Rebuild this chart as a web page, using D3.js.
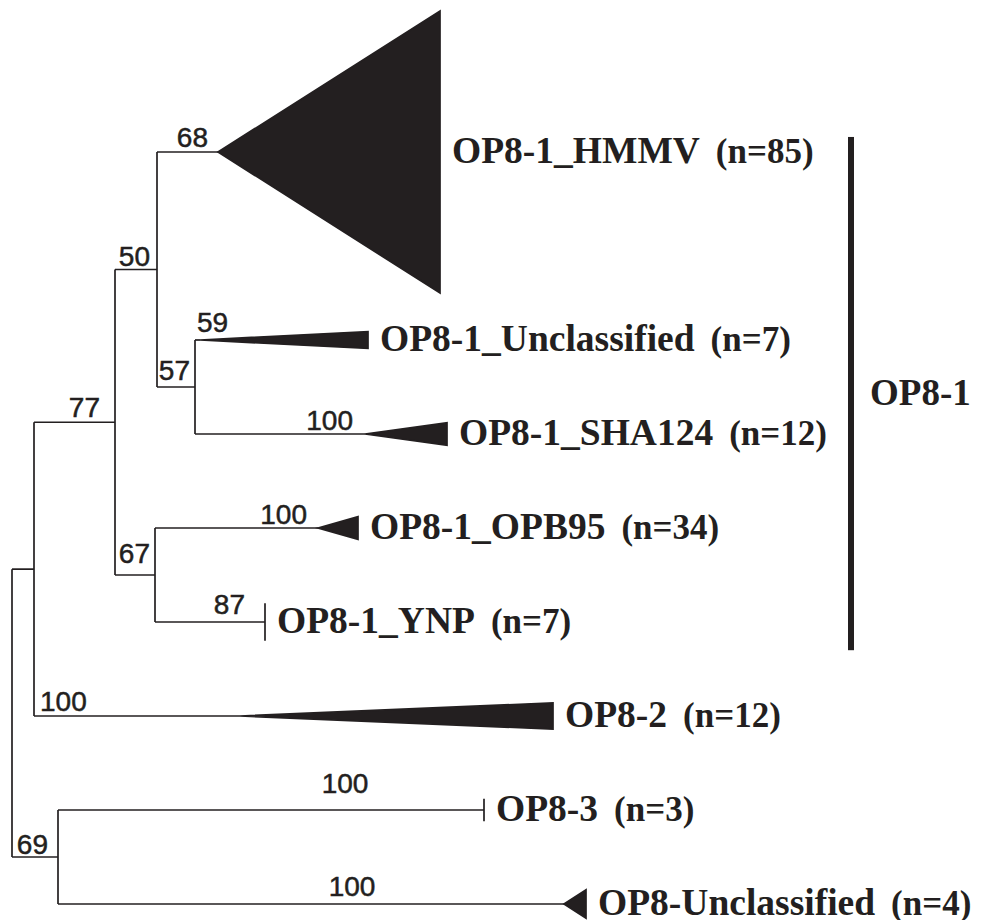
<!DOCTYPE html>
<html>
<head>
<meta charset="utf-8">
<script src="https://cdn.jsdelivr.net/npm/d3@7/dist/d3.min.js"></script>
<style>
  body { margin: 0; background: #fff; }
</style>
</head>
<body>
<script>
// tree topology (branch lengths in substitutions/site)
const nodeIds   = ['root', 'A', 'B77', 'B50', 'B57', 'B67', 'B69', 'HMMV', 'U1', 'SHA124', 'OPB95', 'YNP', 'OP82', 'OP83', 'OPU'];
const parentIds = ['', 'root', 'A', 'B77', 'B50', 'B77', 'root', 'B50', 'B57', 'B57', 'B67', 'B67', 'A', 'B69', 'B69'];
const branchLen = [0, 0.022, 0.081, 0.042, 0.038, 0.040, 0.046, 0.061, 0.005, 0.170, 0.163, 0.110, 0.206, 0.426, 0.506];
const support   = [null, null, 77, 50, 57, 67, 69, 68, 59, 100, 100, 87, 100, 100, 100];

// collapsed clades
const cladeIds    = ['HMMV', 'U1', 'SHA124', 'OPB95', 'YNP', 'OP82', 'OP83', 'OPU'];
const cladeNames  = ['OP8-1_HMMV', 'OP8-1_Unclassified', 'OP8-1_SHA124', 'OP8-1_OPB95', 'OP8-1_YNP', 'OP8-2', 'OP8-3', 'OP8-Unclassified'];
const cladeN      = [85, 7, 12, 34, 7, 12, 3, 4];
const cladeDepth  = [0.222, 0.168, 0.082, 0.040, 0, 0.313, 0, 0.022];
const cladeSpread = [1.5, 0.09, 0.12, 0.12, 0.2, 0.14, 0.12, 0.15];
const leafRow     = [0, 2, 3, 4, 5, 6, 7, 8];

// group bracket
const groupName = 'OP8-1';
const groupRows = [-0.16, 5.3];

const width = 982;
const height = 920;
const ink = '#231f20';

const svg = d3.select('body')
  .append('svg')
  .attr('width', width)
  .attr('height', height)
  .attr('viewBox', [0, 0, width, height]);

const x = d3.scaleLinear().domain([0, 1]).range([12, 1012]);
const y = d3.scaleLinear().domain([0, 8]).range([152, 904]);

const table = nodeIds.map((id, i) => ({
  id, parent: parentIds[i] || null, len: branchLen[i], support: support[i]
}));
const root = d3.stratify().id(d => d.id).parentId(d => d.parent)(table);

// depth along x and row along y
root.eachBefore(n => { n.dist = n.parent ? n.parent.dist + n.data.len : 0; });
root.eachAfter(n => {
  if (n.children) n.row = d3.mean(n.children, c => c.row);
  else n.row = leafRow[cladeIds.indexOf(n.id)];
});

const g = svg.append('g')
  .attr('stroke', ink)
  .attr('stroke-width', 1.7)
  .attr('fill', 'none');

// horizontal branches
g.selectAll('line.h')
  .data(root.descendants().filter(n => n.parent))
  .join('line')
  .attr('class', 'h')
  .attr('x1', n => x(n.parent.dist))
  .attr('x2', n => x(n.dist))
  .attr('y1', n => y(n.row))
  .attr('y2', n => y(n.row));

// vertical connectors
g.selectAll('line.v')
  .data(root.descendants().filter(n => n.children))
  .join('line')
  .attr('class', 'v')
  .attr('x1', n => x(n.dist))
  .attr('x2', n => x(n.dist))
  .attr('y1', n => y(d3.min(n.children, c => c.row)))
  .attr('y2', n => y(d3.max(n.children, c => c.row)));

// collapsed clade triangles
const leaves = root.leaves().map(n => {
  const i = cladeIds.indexOf(n.id);
  return { node: n, name: cladeNames[i], n: cladeN[i], depth: cladeDepth[i], spread: cladeSpread[i] };
});

svg.append('g')
  .selectAll('polygon')
  .data(leaves)
  .join('polygon')
  .attr('points', d => {
    const x0 = x(d.node.dist), x1 = x(d.node.dist + d.depth);
    return [[x0, y(d.node.row)], [x1, y(d.node.row - d.spread)], [x1, y(d.node.row + d.spread)]].join(' ');
  })
  .attr('fill', ink)
  .attr('stroke', ink)
  .attr('stroke-width', 1.7)
  .attr('stroke-linejoin', 'miter');

// clade labels
const lab = svg.append('g')
  .attr('font-family', '"Liberation Serif", "Times New Roman", serif')
  .attr('font-weight', 'bold')
  .attr('fill', ink)
  .selectAll('text')
  .data(leaves)
  .join('text')
  .attr('x', d => x(d.node.dist + d.depth) + 12)
  .attr('y', d => y(d.node.row) + 11);
lab.append('tspan').attr('font-size', 37.5).text(d => d.name);
lab.append('tspan').attr('font-size', 35).attr('dx', 16).text(d => `(n=${d.n})`);

// bootstrap values: default right-aligned near branch end
const supportPos = {
  B77: { dx: -15 },
  B50: { dx: -7, dy: -4 },
  B57: { dx: -5, dy: -7 },
  B67: { dx: -5, dy: -12 },
  SHA124: { dx: -12, dy: -4 },
  OPB95: { dx: -11, dy: -4 },
  YNP: { dx: -20, dy: -8 },
  B69: { dx: -10, dy: -3 },
  U1: { from: 'start', dx: 2, dy: -8 },
  OP82: { from: 'start', dx: 6 },
  OP83: { anchor: 'middle', dx: -139, dy: -17 },
  OPU: { anchor: 'middle', dx: -212, dy: -8 }
};

svg.append('g')
  .attr('font-family', '"Liberation Sans", Arial, sans-serif')
  .attr('font-size', 28)
  .attr('fill', ink)
  .attr('stroke', ink)
  .attr('stroke-width', 0.5)
  .selectAll('text')
  .data(root.descendants().filter(n => n.data.support != null))
  .join('text')
  .each(function (n) {
    const p = Object.assign({ dx: -10, dy: -5 }, supportPos[n.id] || {});
    const start = p.from === 'start';
    d3.select(this)
      .attr('x', (start ? x(n.parent.dist) : x(n.dist)) + p.dx)
      .attr('y', y(n.row) + p.dy)
      .attr('text-anchor', p.anchor || (start ? 'start' : 'end'))
      .text(n.data.support);
  });

// OP8-1 bracket
svg.append('rect')
  .attr('x', 848)
  .attr('y', y(groupRows[0]))
  .attr('width', 6)
  .attr('height', y(groupRows[1]) - y(groupRows[0]))
  .attr('fill', ink);

svg.append('text')
  .attr('x', 870)
  .attr('y', y(d3.mean(groupRows)) + 11)
  .attr('font-family', '"Liberation Serif", "Times New Roman", serif')
  .attr('font-weight', 'bold')
  .attr('font-size', 37)
  .attr('fill', ink)
  .text(groupName);
</script>
</body>
</html>
